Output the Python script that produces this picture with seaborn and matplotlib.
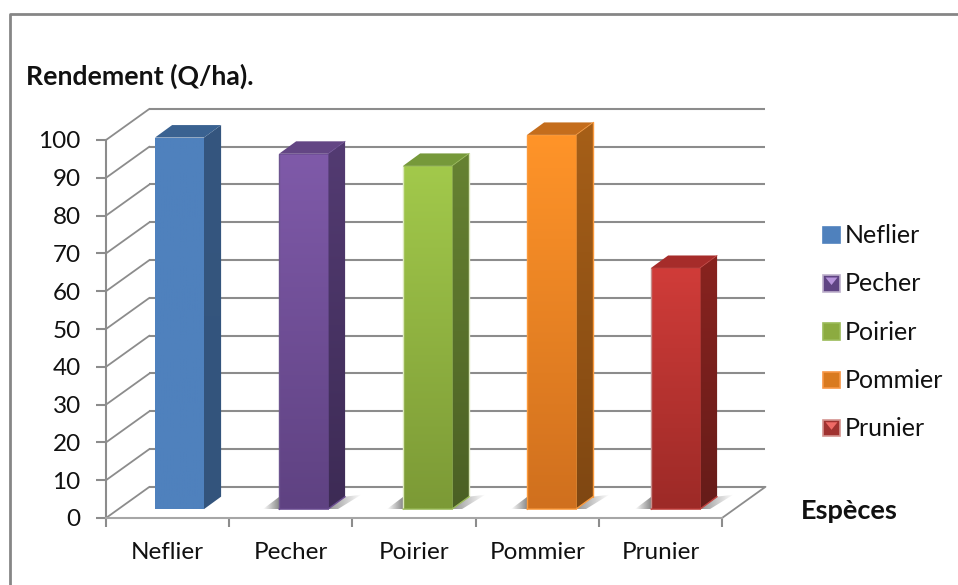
import numpy as np
import pandas as pd
import matplotlib
matplotlib.use("Agg")
import matplotlib.pyplot as plt
import seaborn as sns
from matplotlib.colors import to_rgba
from matplotlib.legend_handler import HandlerBase
from matplotlib.lines import Line2D
from matplotlib.patches import Patch, Polygon, Rectangle
from matplotlib.transforms import Affine2D

# Yield per fruit species
especes = ["Neflier", "Pecher", "Poirier", "Pommier", "Prunier"]
rendement = [98.3, 94.0, 90.8, 99.0, 63.8]
graduations = list(range(0, 101, 10))

# Face shades per species: front top/bottom, side top/bottom, roof, rim colours
front_haut = ["#4f81bd", "#7f5aa9", "#a2c94b", "#ff9429", "#d03c39"]
front_bas = ["#4f81bd", "#5f4282", "#7c9a36", "#d0701e", "#9d2a27"]
cote_haut = ["#35567f", "#533b72", "#668232", "#a65f18", "#88231f"]
cote_bas = ["#33547c", "#3d2b55", "#4b6024", "#7f4712", "#661c19"]
toit = ["#3a6291", "#634684", "#76993a", "#c46d1c", "#a62c2a"]
bord_ext = [None, None, "#dce9bd", "#fb9a3c", None]
bord_gauche = [None, "#6d5590", "#dce9bd", "#fb9a3c", "#c58f8c"]
bord_int = [None, "#6a4c91", "#9bbb59", "#fb9a3c", "#c0403c"]
ombre = [False, True, True, True, True]

# Legend swatches
legende_fond = ["#4f81bd", "#5f4483", "#8cab40", "#d97a20", "#a03230"]
legende_bord = ["#4f81bd", "#bdb0cc", "#9bbb59", "#f79646", "#d49490"]
legende_pointe = [None, "#b794dc", None, None, "#ef6a66"]

W, H = 958, 585
GRIS = "#8c8c8c"
POLICE = "Lato"


def fx(px):
    return px / W


def fy(py):
    return 1 - py / H


sns.set_theme(style="white")
plt.rcParams["font.family"] = [POLICE, "DejaVu Sans"]

fig = plt.figure(figsize=(W / 100, H / 100), dpi=100, facecolor="white")
ax = fig.add_axes([fx(106), fy(518), fx(722) - fx(106), fy(140) - fy(518)])

donnees = pd.DataFrame({"espece": especes, "rendement": rendement})
sns.barplot(
    data=donnees, x="espece", y="rendement", hue="espece", order=especes,
    hue_order=especes, palette=front_haut, width=0.395, dodge=False,
    saturation=1, legend=False, ax=ax, zorder=5,
)
ax.set_xlim(-0.5, 4.5)
ax.set_ylim(0, 100)

# Depth of the floor and of the columns, in data units
PROF_X, PROF_Y = 0.353, 8.25
COL_X, COL_Y = 0.138, 3.3

# Columns stand halfway back on the floor
plan = Affine2D().scale(124 / 123.2, 1).translate(0.0966, 2.35) + ax.transData


def poser_image(image, sommets):
    """Place a ramp in the column plane and cut it to its polygon."""
    image.set_transform(plan)
    image.set_clip_box(fig.bbox)
    image.set_clip_path(Polygon(sommets, transform=plan))


def degrade(sommets, haut, bas, z):
    """Fill a polygon with a vertical colour ramp."""
    pts = np.array(sommets)
    rampe = np.linspace(to_rgba(haut), to_rgba(bas), 64)[:, None, :]
    image = ax.imshow(
        rampe, aspect="auto", interpolation="bilinear", zorder=z,
        extent=(pts[:, 0].min(), pts[:, 0].max(), pts[:, 1].min(), pts[:, 1].max()),
        origin="upper",
    )
    poser_image(image, sommets)


def ombre_sol(g, d):
    """Soft cast shadow on the floor on both sides of a column."""
    for sommets, debut, fin in (
        ([(g - 0.13, 0), (g, 0), (g, COL_Y)], 0.0, 0.8),
        ([(d, 0), (d + COL_X, COL_Y), (d + COL_X + 0.13, COL_Y + 0.5), (d + 0.08, 0)], 0.7, 0.0),
    ):
        pts = np.array(sommets)
        rampe = np.zeros((1, 48, 4))
        rampe[..., :3] = 0.4
        rampe[..., 3] = np.linspace(debut, fin, 48)
        image = ax.imshow(
            rampe, aspect="auto", interpolation="bilinear", zorder=2,
            extent=(pts[:, 0].min(), pts[:, 0].max(), pts[:, 1].min(), pts[:, 1].max()),
        )
        poser_image(image, sommets)


for i, barre in enumerate(ax.patches):
    g, d = barre.get_x(), barre.get_x() + barre.get_width()
    v = barre.get_height()
    barre.set_transform(plan)
    barre.set_clip_on(False)
    barre.set_edgecolor("none")

    if ombre[i]:
        ombre_sol(g, d)

    face = [(g, 0), (d, 0), (d, v), (g, v)]
    cote = [(d, 0), (d + COL_X, COL_Y), (d + COL_X, v + COL_Y), (d, v)]
    dessus = [(g, v), (d, v), (d + COL_X, v + COL_Y), (g + COL_X, v + COL_Y)]

    degrade(cote, cote_haut[i], cote_bas[i], 4)
    ax.add_patch(Polygon(dessus, transform=plan, facecolor=toit[i], edgecolor="none",
                         zorder=4, clip_on=False))
    degrade(face, front_haut[i], front_bas[i], 6)

    # Lit edges of the column
    if bord_gauche[i]:
        ax.plot([g, g], [0, v], transform=plan, color=bord_gauche[i], lw=1.0, zorder=7, clip_on=False)
    if bord_ext[i]:
        ax.plot([d + COL_X, d + COL_X], [COL_Y, v + COL_Y], transform=plan,
                color=bord_ext[i], lw=1.0, zorder=7, clip_on=False)
    if bord_int[i]:
        ax.plot([g, d, d + COL_X], [0, 0, COL_Y], transform=plan,
                color=bord_int[i], lw=1.0, zorder=7, clip_on=False)
        ax.plot([g, d, d], [v, v, 0], transform=plan,
                color=bord_int[i], lw=0.7, zorder=7, clip_on=False, alpha=0.7)
        ax.plot([d, d + COL_X], [v, v + COL_Y], transform=plan,
                color=bord_int[i], lw=0.7, zorder=7, clip_on=False, alpha=0.7)

ax.set_xlim(-0.5, 4.5)
ax.set_ylim(0, 100)

# Back wall: one line per graduation, joined to the axis by a diagonal
for g in graduations:
    ax.plot([-0.5 + PROF_X, 4.5 + PROF_X], [g + PROF_Y, g + PROF_Y], color=GRIS, lw=1.5,
            zorder=1, clip_on=False, solid_capstyle="butt")
    ax.plot([-0.5, -0.5 + PROF_X], [g, g + PROF_Y], color=GRIS, lw=1.3, zorder=1, clip_on=False)
ax.plot([4.5, 4.5 + PROF_X], [0, PROF_Y], color=GRIS, lw=1.3, zorder=1, clip_on=False)

# Axes
sns.despine(ax=ax, top=True, right=True)
for cote_axe in ("left", "bottom"):
    ax.spines[cote_axe].set_color(GRIS)
    ax.spines[cote_axe].set_linewidth(1.5)
ax.spines["bottom"].set_color("#a6a6a6")
ax.patch.set_alpha(0)

ax.set_yticks(graduations)
ax.set_yticklabels([str(g) for g in graduations], fontsize=17.5, color="#111111")
ax.tick_params(axis="y", length=7.2, width=1.5, color=GRIS, pad=11, left=True)

ax.set_xticks(np.arange(-0.5, 5.0, 1.0))
ax.set_xticklabels([])
ax.set_xticks(range(len(especes)), labels=especes, minor=True)
ax.tick_params(axis="x", which="major", length=6.5, width=1.5, color=GRIS, bottom=True)
ax.tick_params(axis="x", which="minor", length=0, pad=17.5, labelsize=17.5, labelcolor="#111111")

ax.set_ylabel("Rendement (Q/ha).", rotation=0, ha="left", va="center",
              fontsize=19.2, fontweight="bold", color="#111111")
ax.yaxis.set_label_coords(fx(26), fy(76), transform=fig.transFigure)
ax.set_xlabel("Espèces", ha="left", va="center", fontsize=19.5, fontweight="bold", color="#111111")
ax.xaxis.set_label_coords(fx(801), fy(511), transform=fig.transFigure)


class CaseBiseautee(HandlerBase):
    """Square key with an optional light wedge at its top edge."""

    def create_artists(self, legend, orig, x0, y0, width, height, fontsize, trans):
        carre = Rectangle((x0, y0), width, height, facecolor=orig.get_facecolor(),
                          edgecolor=orig.get_edgecolor(), lw=1.2, transform=trans)
        artistes = [carre]
        if orig.get_label() in especes:
            pointe = legende_pointe[especes.index(orig.get_label())]
            if pointe:
                artistes.append(Polygon(
                    [(x0 + 0.15 * width, y0 + 0.85 * height),
                     (x0 + 0.85 * width, y0 + 0.85 * height),
                     (x0 + 0.5 * width, y0 + 0.4 * height)],
                    facecolor=pointe, edgecolor="none", transform=trans))
        return artistes


poignees = [Patch(facecolor=f, edgecolor=b, label=e)
            for f, b, e in zip(legende_fond, legende_bord, especes)]
fig.legend(
    handles=poignees, loc="upper left", bbox_to_anchor=(fx(823), fy(224)),
    frameon=False, fontsize=18, borderpad=0, borderaxespad=0, labelspacing=1.01,
    handlelength=0.68, handleheight=0.65, handletextpad=0.2, labelcolor="#111111",
    handler_map={Patch: CaseBiseautee()},
)

# Outer chart border
fig.add_artist(Line2D([fx(9.5), fx(9.5), 1], [0, fy(13.5), fy(13.5)],
                      transform=fig.transFigure, color="#868686", lw=2.0))

fig.savefig("out.png", dpi=100, facecolor="white")
